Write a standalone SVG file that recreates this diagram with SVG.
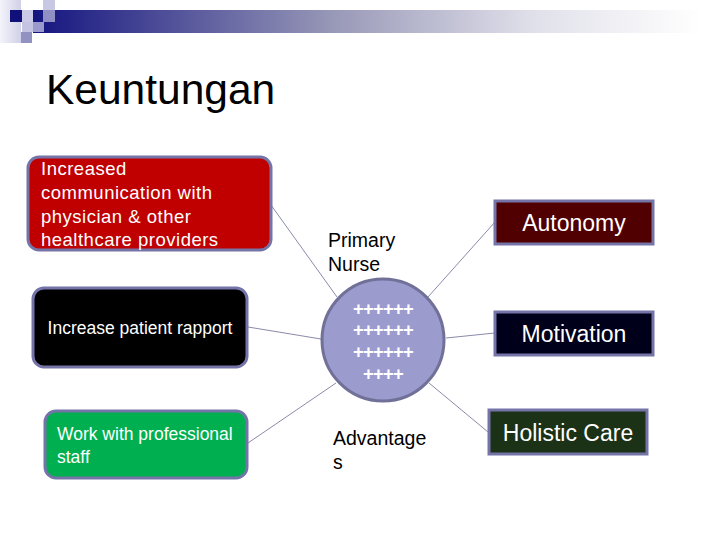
<svg xmlns="http://www.w3.org/2000/svg" width="720" height="540" viewBox="0 0 720 540">
<defs>
<linearGradient id="bar" x1="0" y1="0" x2="1" y2="0">
<stop offset="0" stop-color="#141480"/>
<stop offset="0.45" stop-color="#9898b8"/>
<stop offset="0.75" stop-color="#e0e0ea"/>
<stop offset="1" stop-color="#ffffff"/>
</linearGradient>
<linearGradient id="strip" x1="0" y1="0" x2="1" y2="0">
<stop offset="0" stop-color="#f4f4fa"/>
<stop offset="1" stop-color="#d0d0e8"/>
</linearGradient>
<style>
.box{stroke:#7474a8;stroke-width:3}
.wt{fill:#ffffff;font-family:"Liberation Sans",Arial,sans-serif}
.bt{fill:#000000;font-family:"Liberation Sans",Arial,sans-serif}
.conn line{stroke:#8a8aaa;stroke-width:1}
</style>
</defs>
<rect width="720" height="540" fill="#ffffff"/>
<g id="header">
<rect x="33" y="10" width="667" height="23" fill="url(#bar)"/>
<rect x="0" y="0" width="21" height="43" fill="url(#strip)"/>
<rect x="10" y="10" width="12" height="12" fill="#10107a"/>
<rect x="22" y="10" width="11" height="12" fill="#cacae6"/>
<rect x="43" y="0" width="12" height="10" fill="#c8c8e4"/>
<rect x="43" y="10" width="12" height="12" fill="#9090c4"/>
<rect x="22" y="22" width="11" height="10" fill="#c4c4e2"/>
<rect x="33" y="22" width="11" height="10" fill="#9a9acc"/>
<rect x="21" y="32" width="11" height="11" fill="#9292c2"/>
</g>
<text class="bt" x="46" y="104" font-size="42.5">Keuntungan</text>
<g class="conn" id="connectors">
<line x1="271" y1="205" x2="337" y2="297"/>
<line x1="248" y1="327" x2="321" y2="339"/>
<line x1="248" y1="443" x2="336" y2="383"/>
<line x1="428" y1="297" x2="495" y2="222"/>
<line x1="446" y1="338" x2="495" y2="333"/>
<line x1="429" y1="383" x2="488" y2="432"/>
</g>
<g id="node-communication">
<rect class="box" x="28" y="157" width="243" height="93" rx="11" fill="#c00000"/>
<text class="wt" font-size="18.5" letter-spacing="0.5"><tspan x="41" y="175">Increased</tspan><tspan x="41" y="199">communication with</tspan><tspan x="41" y="223">physician &amp; other</tspan><tspan x="41" y="246">healthcare providers</tspan></text>
</g>
<g id="node-rapport">
<rect class="box" x="33" y="288" width="214" height="79" rx="11" fill="#000000"/>
<text class="wt" font-size="17.5" x="140" y="334" text-anchor="middle">Increase patient rapport</text>
</g>
<g id="node-staff">
<rect class="box" x="45" y="411" width="202" height="67" rx="11" fill="#00b050"/>
<text class="wt" font-size="17.5"><tspan x="57" y="440">Work with professional</tspan><tspan x="57" y="463">staff</tspan></text>
</g>
<g id="node-center">
<circle cx="383" cy="340" r="61" fill="#9b9bce" stroke="#707098" stroke-width="3"/>
<text class="wt" font-size="18.5" font-weight="bold" text-anchor="middle" letter-spacing="-0.8"><tspan x="383" y="315">++++++</tspan><tspan x="383" y="336">++++++</tspan><tspan x="383" y="358">++++++</tspan><tspan x="383" y="380">++++</tspan></text>
</g>
<g id="label-primary">
<text class="bt" font-size="19.5"><tspan x="328" y="247">Primary</tspan><tspan x="328" y="271">Nurse</tspan></text>
</g>
<g id="label-advantages">
<text class="bt" font-size="19.5"><tspan x="333" y="445">Advantage</tspan><tspan x="333" y="469">s</tspan></text>
</g>
<g id="node-autonomy">
<rect class="box" x="495" y="201" width="158" height="43" fill="#500000"/>
<text class="wt" font-size="23" x="574" y="231" text-anchor="middle">Autonomy</text>
</g>
<g id="node-motivation">
<rect class="box" x="495" y="312" width="158" height="43" fill="#00001a"/>
<text class="wt" font-size="23" x="574" y="342" text-anchor="middle">Motivation</text>
</g>
<g id="node-holistic">
<rect class="box" x="489" y="410" width="158" height="44" fill="#1c3216"/>
<text class="wt" font-size="23" x="568" y="441" text-anchor="middle">Holistic Care</text>
</g>
</svg>
